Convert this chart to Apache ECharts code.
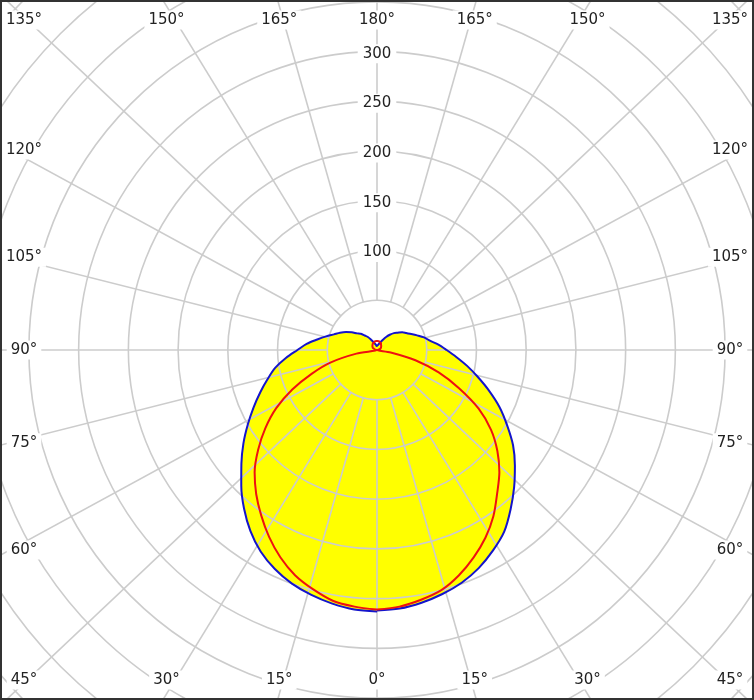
<!DOCTYPE html>
<html><head><meta charset="utf-8">
<script src="https://cdn.jsdelivr.net/npm/echarts@6/dist/echarts.min.js"></script>
<style>html,body{margin:0;padding:0;background:#fff}#c{width:754px;height:700px}</style>
</head><body><div id="c"></div>
<script>
// gamma angles (deg) measured from nadir, each half-plane 0..180
const angles = [0,5,10,15,20,25,30,35,40,45,50,55,60,65,70,75,80,85,90,95,100,105,110,115,120,125,130,135,140,145,150,155,160,165,170,175,180];
// blue curve (filled) - left half and right half, cd
const blueLeft  = [263,262,259,255,250,243,234,222,208,193,178,164,150,137,125,114,104,92,80,71,61,53,46,41,36,31,26,23,19,16,12,9,7,6,5,4,4];
const blueRight = [262,261,258,254,249,242,233,223,209,195,181,167,151,136,120,105,92,80,70,62,54,49,43,38,34,31,27,24,20,16,12,9,7,6,5,4,4];
// red curve - left half and right half, cd
const redLeft   = [261,259,256,249,241,230,217,203,189,174,156,137,117,94,70,48,21,0,0,1,2,2,3,4,5,5,6,6,7,7,8,8,8,9,9,9,9];
const redRight  = [261,259,255,250,241,230,218,204,188,174,158,140,118,91,66,40,14,0,0,1,2,2,3,4,5,5,6,6,7,7,8,8,8,9,9,9,9];
// grid / tick labels
const gridAngles = [0,15,30,45,60,75,90,105,120,135,150,165,180,195,210,225,240,255,270,285,300,315,330,345];
const radiusTickLabels = [100,150,200,250,300];
const angleTickLabels = [0,15,30,45,60,75,90,105,120,135,150,165,180];

const FONT = '15px "DejaVu Sans", Verdana, sans-serif';
const TXT = '#222';
const K = 1.06; // horizontal stretch of the original's radial grid

function buildLoop(left, right){
  const d = [];
  for (let i = 0; i < angles.length; i++) d.push([left[i], angles[i]]);
  for (let i = angles.length - 1; i >= 0; i--) d.push([right[i], 360 - angles[i]]);
  return d;
}
const blueData = buildLoop(blueLeft, blueRight);
const redData = buildLoop(redLeft, redRight);

const edgeItems = [], edgeText = [];
angleTickLabels.forEach(a => { edgeItems.push([0, a]); edgeText.push(a + '°'); });
angleTickLabels.forEach(a => { if (a > 0 && a < 180) { edgeItems.push([0, 360 - a]); edgeText.push(a + '°'); } });

function ray(api, a){
  const c = api.coord([0, 0]);
  const p = api.coord([100, a]);
  const ex = p[0] - c[0], ey = p[1] - c[1];
  const unit = Math.hypot(ex, ey) / 100;
  let dx = ex * K, dy = ey;
  const L = Math.hypot(dx, dy);
  return {c, ux: dx / L, uy: dy / L, unit};
}

const chart = echarts.init(document.getElementById('c'), null, {renderer: 'canvas'});
chart.setOption({
  animation: false,
  backgroundColor: '#fff',
  polar: {center: ['50%', '50%'], radius: 547},
  angleAxis: {type: 'value', min: 0, max: 360, interval: 15, startAngle: -90, clockwise: true, show: false},
  radiusAxis: {
    type: 'value', min: 0, max: 550, interval: 50, z: 3,
    axisLine: {show: false}, axisTick: {show: false}, axisLabel: {show: false},
    splitLine: {show: true, lineStyle: {color: '#cccccc', width: 1.6}}
  },
  graphic: [{
    type: 'rect', z: 100, silent: true,
    shape: {x: 1, y: 1, width: 752, height: 698},
    style: {fill: 'none', stroke: '#333', lineWidth: 2}
  }],
  series: [
    {
      type: 'line', coordinateSystem: 'polar', data: blueData, z: 1, silent: true,
      symbol: 'none', showSymbol: false, clip: false, smooth: 0.3,
      lineStyle: {width: 0, opacity: 0},
      areaStyle: {color: '#ffff00', opacity: 1}
    },
    {
      type: 'custom', coordinateSystem: 'polar', z: 3, silent: true,
      data: gridAngles.map(a => [0, a]),
      renderItem(params, api){
        const r = ray(api, api.value(1));
        const r0 = 50 * r.unit, r1 = 900;
        return {type: 'line', shape: {
          x1: r.c[0] + r.ux * r0, y1: r.c[1] + r.uy * r0,
          x2: r.c[0] + r.ux * r1, y2: r.c[1] + r.uy * r1
        }, style: {stroke: '#cccccc', lineWidth: 1.6}};
      }
    },
    {
      type: 'line', coordinateSystem: 'polar', data: blueData, z: 5, silent: true,
      symbol: 'none', showSymbol: false, clip: false, smooth: 0.3,
      lineStyle: {color: '#1414cc', width: 2}
    },
    {
      type: 'line', coordinateSystem: 'polar', data: redData, z: 6, silent: true,
      symbol: 'none', showSymbol: false, clip: false, smooth: 0.3,
      lineStyle: {color: '#ee1111', width: 2}
    },
    {
      type: 'custom', coordinateSystem: 'polar', z: 8, silent: true,
      data: radiusTickLabels.map(v => [v, 180]),
      renderItem(params, api){
        const p = api.coord([api.value(0), api.value(1)]);
        return {type: 'text', x: p[0], y: p[1] + 2, style: {
          text: String(radiusTickLabels[params.dataIndex]), font: FONT, fill: TXT,
          align: 'center', verticalAlign: 'middle', backgroundColor: '#fff', padding: [2, 5]
        }};
      }
    },
    {
      type: 'custom', coordinateSystem: 'polar', z: 8, silent: true,
      data: edgeItems,
      renderItem(params, api){
        const r = ray(api, api.value(1));
        const W = api.getWidth(), H = api.getHeight(), ex = 10, ey = 6;
        let t = Infinity;
        if (r.ux > 1e-9) t = Math.min(t, (W - ex - r.c[0]) / r.ux);
        if (r.ux < -1e-9) t = Math.min(t, (ex - r.c[0]) / r.ux);
        if (r.uy > 1e-9) t = Math.min(t, (H - ey - r.c[1]) / r.uy);
        if (r.uy < -1e-9) t = Math.min(t, (ey - r.c[1]) / r.uy);
        let x = r.c[0] + r.ux * t, y = r.c[1] + r.uy * t;
        x = Math.max(24, Math.min(W - 24, x));
        y = Math.max(20, Math.min(H - 20, y));
        return {type: 'text', x: x, y: y, style: {
          text: edgeText[params.dataIndex], font: FONT, fill: TXT,
          align: 'center', verticalAlign: 'middle', backgroundColor: '#fff', padding: [2, 4]
        }};
      }
    }
  ]
});
</script></body></html>
